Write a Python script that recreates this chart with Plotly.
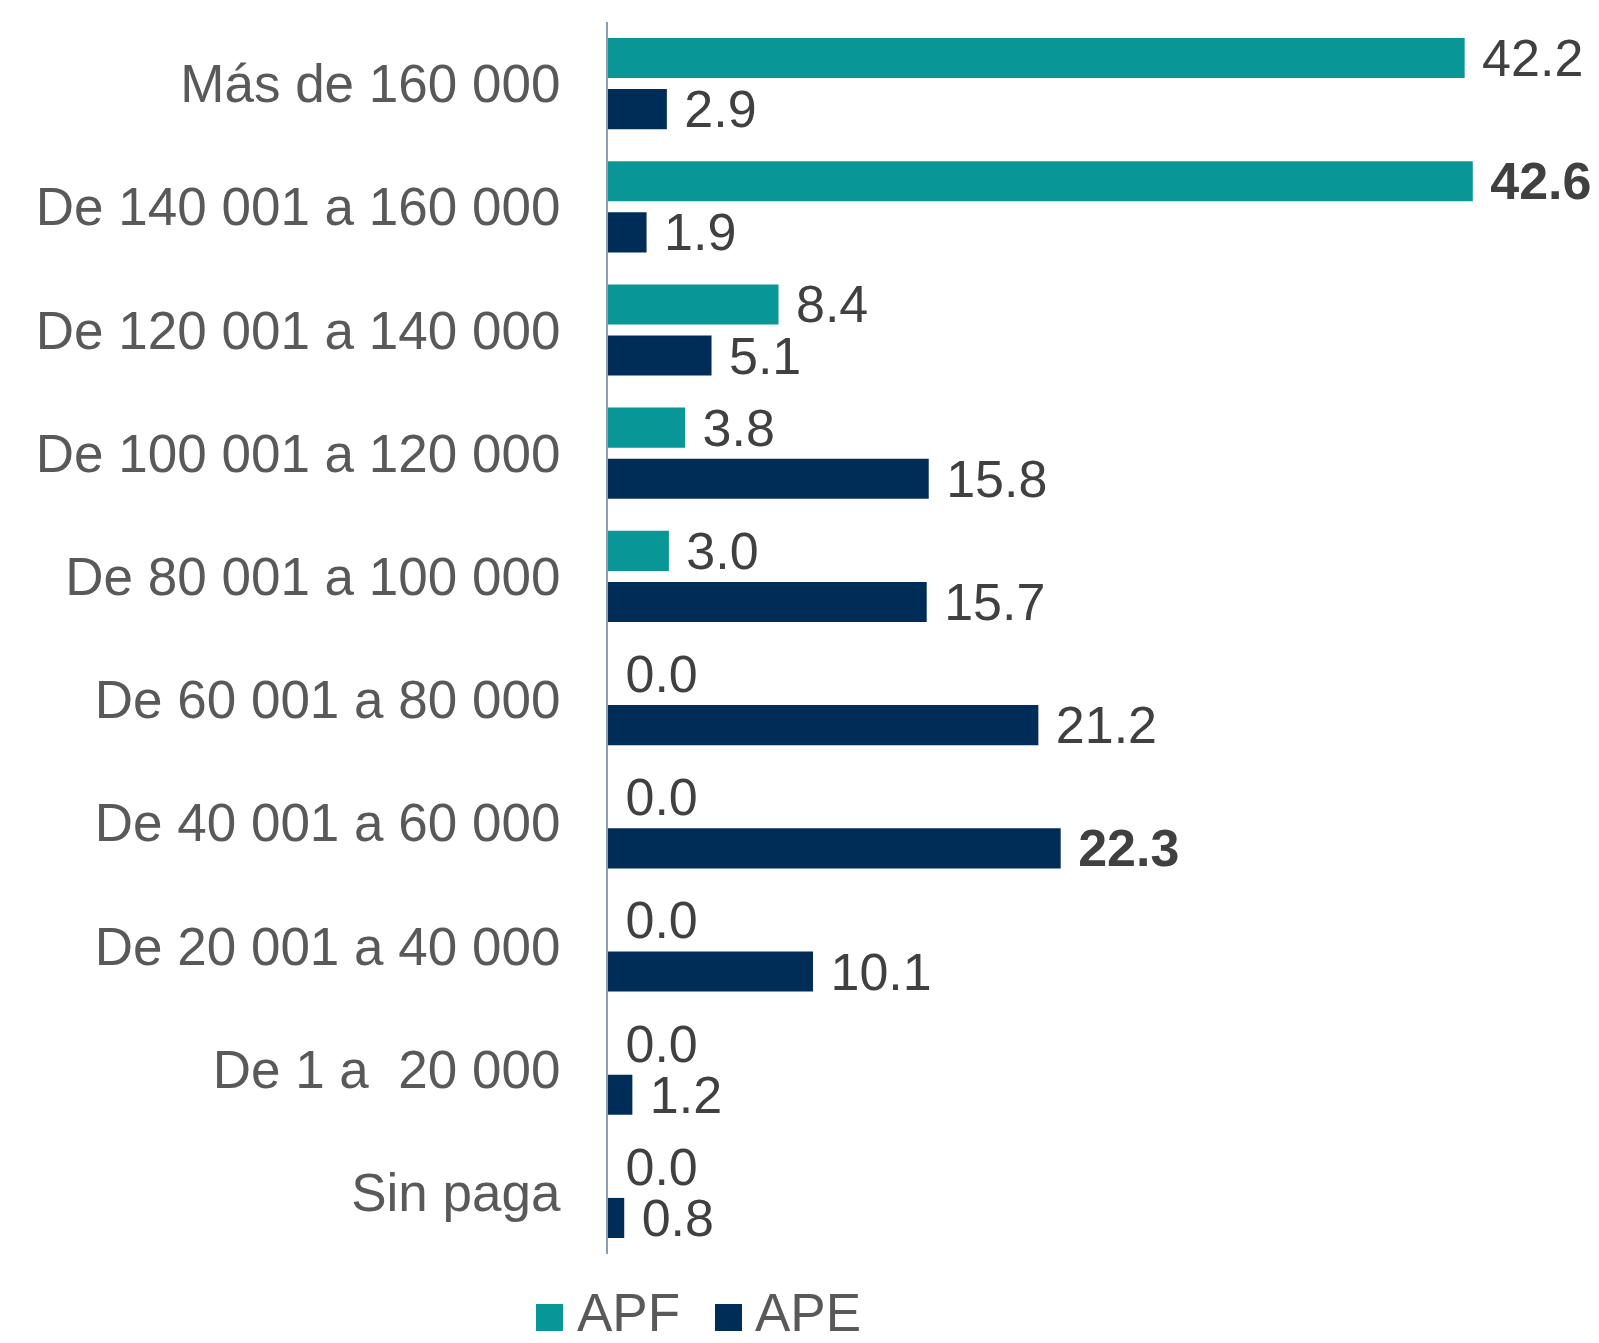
import plotly.graph_objects as go

categories = ["Más de 160 000", "De 140 001 a 160 000", "De 120 001 a 140 000",
              "De 100 001 a 120 000", "De 80 001 a 100 000", "De 60 001 a 80 000",
              "De 40 001 a 60 000", "De 20 001 a 40 000", "De 1 a  20 000", "Sin paga"]
apf = [42.2, 42.6, 8.4, 3.8, 3.0, 0.0, 0.0, 0.0, 0.0, 0.0]
ape = [2.9, 1.9, 5.1, 15.8, 15.7, 21.2, 22.3, 10.1, 1.2, 0.8]
series_names = ["APF", "APE"]
colors = ["#089696", "#002D57"]

W, H = 1599, 1343
L, R, T, B = 608, 6, 22, 89
PW = W - L - R
PH = H - T - B
XMAX = PW / 20.3

FONT = "Liberation Sans, Arial, sans-serif"


def labels(vals):
    m = max(vals)
    out = []
    for v in vals:
        s = f"{v:.1f}"
        if v == m:
            s = f"<b>{s}</b>"
        out.append("\u00a0" + s)
    return out


fig = go.Figure()
for name, vals, col in zip(series_names, [apf, ape], colors):
    fig.add_trace(go.Bar(
        y=categories, x=vals, orientation="h", name=name,
        marker=dict(color=col, line=dict(width=0)),
        text=labels(vals), textposition="outside", cliponaxis=False,
        constraintext="none",
        textfont=dict(family=FONT, size=52, color="#404040"),
        showlegend=False, hoverinfo="skip",
    ))


def px_x(p):
    return (p - L) / PW


def px_y(p):
    return (H - B - p) / PH


shapes = []
annotations = []
legend_items = [(536, 577), (715, 755)]
for (sx, tx), name, col in zip(legend_items, series_names, colors):
    shapes.append(dict(type="rect", xref="paper", yref="paper",
                       x0=px_x(sx), x1=px_x(sx + 27), y0=px_y(1331), y1=px_y(1304),
                       fillcolor=col, line=dict(width=0)))
    annotations.append(dict(xref="paper", yref="paper", x=px_x(tx - 2), y=px_y(1312),
                            xanchor="left", yanchor="middle", text=name, showarrow=False,
                            font=dict(family=FONT, size=53, color="#595959")))

fig.update_layout(
    width=W, height=H,
    margin=dict(l=L, r=R, t=T, b=B, pad=0),
    paper_bgcolor="white", plot_bgcolor="white",
    barmode="group", bargap=0.17, bargroupgap=0.216,
    font=dict(family=FONT, color="#595959"),
    xaxis=dict(range=[0, XMAX], visible=False, showgrid=False, zeroline=False),
    yaxis=dict(autorange="reversed", showgrid=False, zeroline=False,
               showline=True, linecolor="#8C9DB0", linewidth=2,
               ticks="", ticklabelstandoff=35,
               tickfont=dict(family=FONT, size=53, color="#595959")),
    shapes=shapes, annotations=annotations,
)

fig.write_html("out.html", config={"displayModeBar": False},
               post_script="document.body.style.margin='0';document.body.style.overflow='hidden';")
